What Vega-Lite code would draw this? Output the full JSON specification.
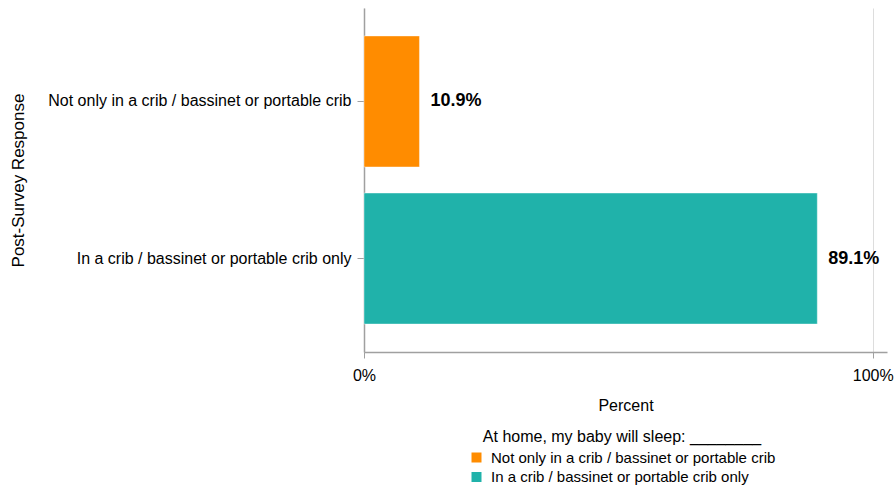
{
  "$schema": "https://vega.github.io/schema/vega-lite/v6.json",
  "width": 523,
  "height": 344,
  "autosize": "none",
  "padding": {"left": 364, "top": 8, "right": 9, "bottom": 133},
  "background": "white",
  "config": {
    "font": "Liberation Sans",
    "view": {"stroke": null},
    "axis": {"labelFont": "Liberation Sans", "titleFont": "Liberation Sans", "labelColor": "black", "titleColor": "black", "titleFontWeight": "normal"}
  },
  "data": {
    "values": [
      {"response": "Not only in a crib / bassinet or portable crib", "pct": 0.109, "label": "10.9%"},
      {"response": "In a crib / bassinet or portable crib only", "pct": 0.891, "label": "89.1%"}
    ]
  },
  "encoding": {
    "y": {
      "field": "response",
      "type": "nominal",
      "sort": ["Not only in a crib / bassinet or portable crib", "In a crib / bassinet or portable crib only"],
      "scale": {"paddingInner": 0.166, "paddingOuter": 0.178},
      "axis": {
        "title": "Post-Survey Response",
        "titleFontSize": 17,
        "titleX": -346,
        "titleBaseline": "middle",
        "labelFontSize": 16,
        "labelPadding": 6,
        "tickSize": 7,
        "tickColor": "#a0a0a0",
        "domainColor": "#a0a0a0",
        "domainWidth": 1.5,
        "labelLimit": 400
      }
    },
    "x": {
      "field": "pct",
      "type": "quantitative",
      "scale": {"domain": [0, 1.028], "nice": false},
      "axis": {
        "title": "Percent",
        "titleFontSize": 16,
        "titlePadding": 14,
        "labelFontSize": 16,
        "labelPadding": 9,
        "values": [0, 1],
        "format": ".0%",
        "tickSize": 6,
        "tickColor": "#a0a0a0",
        "domainColor": "#a0a0a0",
        "domainWidth": 1.5,
        "grid": true,
        "gridColor": "#dddddd",
        "labelFlush": false
      }
    }
  },
  "layer": [
    {
      "mark": {"type": "bar", "stroke": "white", "strokeOpacity": 0.4, "strokeWidth": 1},
      "encoding": {
        "color": {
          "field": "response",
          "type": "nominal",
          "scale": {
            "domain": ["Not only in a crib / bassinet or portable crib", "In a crib / bassinet or portable crib only"],
            "range": ["#FF8C00", "#20B2AA"]
          },
          "legend": {
            "title": "At home, my baby will sleep: ________",
            "orient": "none",
            "legendX": 105,
            "legendY": 421,
            "padding": 0,
            "titleFontSize": 16,
            "titleFontWeight": "normal",
            "titleColor": "black",
            "titleAnchor": "middle",
            "titleLimit": 500,
            "titlePadding": 5,
            "labelFontSize": 15,
            "labelColor": "black",
            "labelLimit": 400,
            "symbolType": "square",
            "symbolSize": 100,
            "symbolStrokeWidth": 0,
            "rowPadding": 3.5,
            "labelOffset": 7
          }
        }
      }
    },
    {
      "mark": {"type": "text", "align": "left", "baseline": "middle", "dx": 11, "fontSize": 18, "fontWeight": "bold", "color": "black"},
      "encoding": {"text": {"field": "label"}}
    }
  ]
}
